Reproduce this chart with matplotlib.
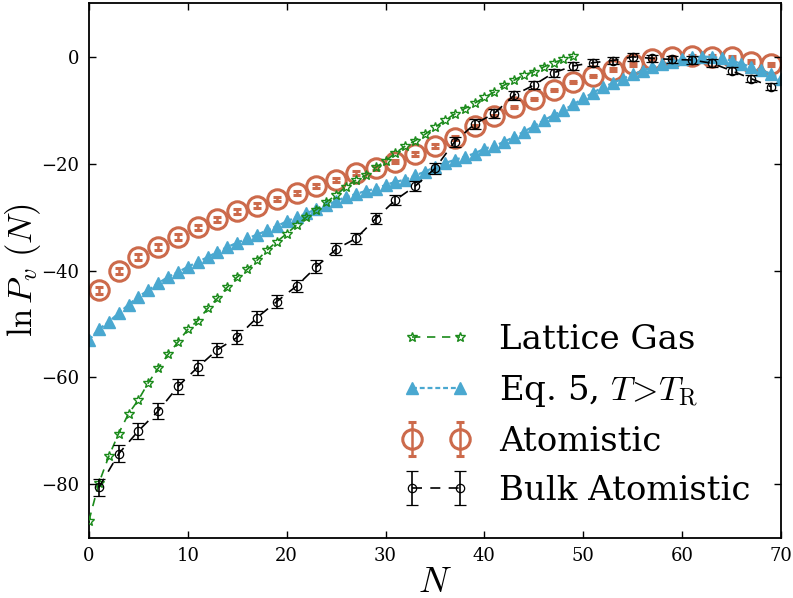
import numpy as np
import matplotlib
matplotlib.use('Agg')
import matplotlib.pyplot as plt

plt.rcParams['font.family'] = 'DejaVu Serif'
plt.rcParams['mathtext.fontset'] = 'cm'

# Lattice gas, N = 0..49
n_lattice = list(range(0, 50))
lattice = [-86.8, -79.8, -74.8, -70.5, -66.8, -64.2, -61.0, -58.3, -55.7, -53.4,
           -51.0, -49.4, -47.1, -45.2, -43.1, -41.2, -39.8, -38.1, -36.2, -34.6,
           -33.1, -31.5, -30.0, -28.6, -27.2, -25.9, -24.3, -23.1, -22.2, -20.7,
           -19.5, -18.0, -16.7, -15.7, -14.5, -13.2, -11.9, -10.7, -9.7, -8.7,
           -7.6, -6.6, -5.3, -4.4, -3.4, -2.8, -1.9, -1.1, -0.5, 0.1]

# Eq. 5, N = 0..70
n_eq5 = list(range(0, 71))
eq5 = [-53.0, -51.0, -49.6, -48.0, -46.4, -44.9, -43.7, -42.4, -41.2, -40.3,
       -39.3, -38.4, -37.5, -36.5, -35.6, -34.8, -34.0, -33.3, -32.5, -31.7,
       -30.8, -30.0, -29.3, -28.5, -27.8, -27.0, -26.2, -25.7, -25.1, -24.7,
       -24.0, -23.4, -23.0, -22.2, -21.5, -20.6, -19.9, -19.3, -18.7, -18.1,
       -17.2, -16.7, -15.9, -15.0, -14.0, -13.0, -11.9, -10.9, -10.0, -8.9,
       -7.8, -6.7, -5.7, -4.9, -4.1, -3.3, -2.6, -2.0, -1.4, -0.9,
       -0.5, -0.1, 0.0, 0.0, -0.3, -0.7, -1.3, -1.9, -2.5, -3.2, -4.2]

# Atomistic, odd N
n_atom = list(range(1, 70, 2))
atom = [-43.7, -40.1, -37.5, -35.6, -33.7, -31.9, -30.4, -28.9, -27.9, -26.6,
        -25.5, -24.2, -23.0, -21.8, -20.8, -19.6, -18.2, -16.7, -15.2, -13.0,
        -11.1, -9.4, -7.9, -6.2, -4.7, -3.6, -2.4, -1.4, -0.5, -0.1,
        0.1, 0.0, -0.1, -0.9, -1.4]
atom_err = [0.6, 0.6, 0.6, 0.55, 0.55, 0.5, 0.5, 0.5, 0.45, 0.45,
            0.45, 0.4, 0.4, 0.4, 0.35, 0.35, 0.3, 0.3, 0.3, 0.3,
            0.25, 0.25, 0.25, 0.25, 0.25, 0.25, 0.25, 0.25, 0.25, 0.25,
            0.25, 0.25, 0.25, 0.25, 0.25]

# Bulk atomistic, odd N
n_bulk = list(range(1, 70, 2))
bulk = [-80.6, -74.3, -70.0, -66.3, -61.7, -58.1, -54.8, -52.5, -48.8, -45.8,
        -42.9, -39.3, -36.0, -34.0, -30.3, -26.8, -24.2, -20.9, -15.9, -12.6,
        -10.6, -7.2, -5.3, -3.0, -1.7, -1.1, -0.7, 0.0, -0.3, -0.5,
        -0.6, -1.2, -2.6, -4.1, -5.6]
bulk_err = [1.6, 1.6, 1.5, 1.5, 1.4, 1.4, 1.3, 1.3, 1.3, 1.2,
            1.2, 1.2, 1.1, 1.1, 1.0, 1.0, 1.0, 1.0, 0.9, 0.9,
            0.9, 0.8, 0.8, 0.8, 0.8, 0.7, 0.7, 0.7, 0.7, 0.7,
            0.7, 0.7, 0.7, 0.7, 0.7]

orange = '#cc6a4b'
blue = '#4aa8d0'
green = '#1a8a1a'

fig = plt.figure(figsize=(7.93, 5.98), dpi=100)
ax = fig.add_axes([0.1122, 0.1008, 0.8726, 0.8936])

ax.plot(n_lattice, lattice, color=green, linestyle='--', dashes=(5, 4), lw=1.2,
        marker='*', ms=7, mfc='none', mec=green, mew=1.0, label='Lattice Gas', zorder=3)
ax.plot(n_eq5, eq5, color=blue, linestyle='--', dashes=(2.2, 1.3), lw=1.6,
        marker='^', ms=8.5, mec=blue, mfc=blue, label=r'Eq. 5, $T\!>\!T_\mathrm{R}$', zorder=2)
ax.errorbar(n_atom, atom, yerr=atom_err, fmt='o', color=orange, ms=14, mfc='none',
            mec=orange, mew=2.2, elinewidth=1.8, capsize=3, capthick=1.8,
            label='Atomistic', zorder=1)
ax.errorbar(n_bulk, bulk, yerr=bulk_err, fmt='o', linestyle='--', dashes=(6, 5),
            color='black', ms=6, mfc='none', mew=0.9, lw=1.2, elinewidth=1.2,
            capsize=4, capthick=1.2, label='Bulk Atomistic', zorder=4)

ax.set_xlim(0, 70)
ax.set_ylim(-90, 10)
ax.set_xticks([0, 10, 20, 30, 40, 50, 60, 70])
ax.set_yticks([0, -20, -40, -60, -80])
ax.tick_params(direction='in', top=True, right=True, length=5, width=1, labelsize=13, pad=7)
for sp in ax.spines.values():
    sp.set_linewidth(1.3)

ax.set_xlabel(r'$N$', fontsize=26, labelpad=0)
ax.set_ylabel(r'$\ln P_v\ (N)$', fontsize=25)
ax.yaxis.set_label_coords(-0.066, 0.5)

leg = ax.legend(loc='lower right', bbox_to_anchor=(1.0, 0.0), frameon=False,
                fontsize=24.5, numpoints=2, handlelength=2.0, handletextpad=0.85,
                labelspacing=0.5)

fig.savefig('out.png', dpi=100)
